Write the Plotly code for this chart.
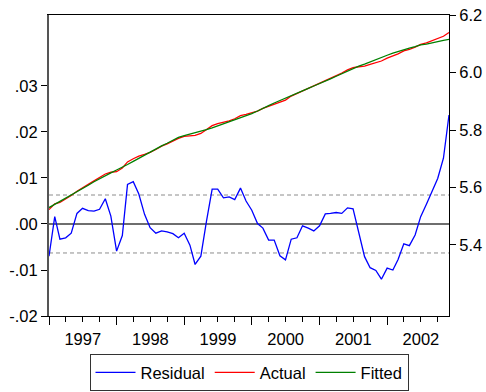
import pandas as pd
import plotly.graph_objects as go

# Monthly observations 1997M01 - 2002M12
dates = pd.date_range("1997-01-01", "2002-12-01", freq="MS")

residual = [
    -0.0070, 0.0016, -0.0033, -0.0030, -0.0020, 0.0023, 0.0034, 0.0029, 0.0028, 0.0032, 0.0055, 0.0017,
    -0.0059, -0.0025, 0.0086, 0.0092, 0.0065, 0.0021, -0.0008, -0.0020, -0.0015, -0.0017, -0.0021, -0.0030,
    -0.0020, -0.0046, -0.0088, -0.0070, 0.0005, 0.0076, 0.0076, 0.0057, 0.0059, 0.0053, 0.0078, 0.0050,
    0.0030, 0.0001, -0.0009, -0.0035, -0.0035, -0.0069, -0.0078, -0.0033, -0.0030, -0.0004, -0.0009, -0.0015,
    -0.0004, 0.0022, 0.0023, 0.0025, 0.0023, 0.0035, 0.0033, -0.0017, -0.0071, -0.0095, -0.0101, -0.0120,
    -0.0096, -0.0100, -0.0077, -0.0043, -0.0047, -0.0024, 0.0016, 0.0043, 0.0070, 0.0099, 0.0143, 0.0237,
]

actual = [
    5.523, 5.543, 5.548, 5.559, 5.572, 5.587, 5.600, 5.611, 5.623, 5.634, 5.647, 5.653,
    5.655, 5.668, 5.689, 5.700, 5.709, 5.715, 5.722, 5.732, 5.744, 5.752, 5.762, 5.771,
    5.778, 5.780, 5.781, 5.788, 5.802, 5.815, 5.822, 5.826, 5.832, 5.839, 5.850, 5.854,
    5.860, 5.866, 5.875, 5.882, 5.891, 5.896, 5.904, 5.918, 5.927, 5.937, 5.944, 5.952,
    5.961, 5.972, 5.980, 5.990, 5.998, 6.009, 6.017, 6.020, 6.022, 6.028, 6.035, 6.040,
    6.050, 6.057, 6.065, 6.075, 6.080, 6.088, 6.098, 6.103, 6.111, 6.118, 6.126, 6.139,
]

fitted = [
    5.530, 5.541, 5.551, 5.562, 5.574, 5.585, 5.597, 5.608, 5.620, 5.631, 5.641, 5.651,
    5.661, 5.670, 5.680, 5.691, 5.702, 5.713, 5.723, 5.734, 5.745, 5.754, 5.764, 5.774,
    5.780, 5.785, 5.790, 5.795, 5.801, 5.807, 5.814, 5.820, 5.826, 5.834, 5.842, 5.849,
    5.857, 5.866, 5.876, 5.885, 5.894, 5.903, 5.912, 5.921, 5.930, 5.937, 5.945, 5.953,
    5.961, 5.970, 5.978, 5.987, 5.996, 6.005, 6.014, 6.022, 6.029, 6.037, 6.045, 6.052,
    6.060, 6.067, 6.073, 6.079, 6.085, 6.090, 6.096, 6.099, 6.104, 6.108, 6.112, 6.115,
]

se_band = 0.0063  # +/- one standard error of the regression

left_tickvals = [-0.02, -0.01, 0.0, 0.01, 0.02, 0.03]
left_ticktext = ["-.02", "-.01", ".00", ".01", ".02", ".03"]
right_tickvals = [5.4, 5.6, 5.8, 6.0, 6.2]
right_ticktext = ["5.4", "5.6", "5.8", "6.0", "6.2"]

FONT = "Liberation Sans, Arial, sans-serif"
FS = 16.5

fig = go.Figure()
fig.add_trace(go.Scatter(x=dates, y=residual, name="Residual", mode="lines",
                         line=dict(color="#0000FF", width=1.3), yaxis="y"))
fig.add_trace(go.Scatter(x=dates, y=actual, name="Actual", mode="lines",
                         line=dict(color="#FF0000", width=1.3), yaxis="y2"))
fig.add_trace(go.Scatter(x=dates, y=fitted, name="Fitted", mode="lines",
                         line=dict(color="#008000", width=1.3), yaxis="y2"))

# reference lines: zero and +/- SE
fig.add_shape(type="line", xref="paper", yref="y", x0=0, x1=1, y0=0, y1=0,
              line=dict(color="#6e6e6e", width=2), layer="below")
for s in (se_band, -se_band):
    fig.add_shape(type="line", xref="paper", yref="y", x0=0, x1=1, y0=s, y1=s,
                  line=dict(color="#8c8c8c", width=1, dash="4px,3px"), layer="below")

fig.update_layout(
    width=486, height=392,
    margin=dict(l=49, r=37, t=15, b=76, autoexpand=False),
    paper_bgcolor="white", plot_bgcolor="white",
    font=dict(family=FONT, size=FS, color="black"),
    showlegend=True,
    legend=dict(orientation="h", x=0.5, xanchor="center", y=-0.127, yanchor="top",
                bordercolor="#333333", borderwidth=1, font=dict(size=FS),
                itemwidth=40, tracegroupgap=0),
    xaxis=dict(
        type="date", range=[dates[0], dates[-1]], automargin=False,
        showgrid=False, zeroline=False,
        showline=True, linecolor="black", linewidth=1, mirror=True,
        tickmode="linear", tick0="1997-01-01", dtick="M12",
        ticklabelmode="period", tickformat="%Y",
        ticks="outside", ticklen=8, tickcolor="black", tickwidth=1,
        minor=dict(ticks="outside", ticklen=5, dtick="M3", tick0="1997-01-01",
                   tickcolor="black", showgrid=False),
        tickfont=dict(size=FS),
    ),
    yaxis=dict(
        range=[-0.02, 0.04543], showgrid=False, zeroline=False, automargin=False,
        tickmode="array", tickvals=left_tickvals, ticktext=left_ticktext,
        ticks="outside", ticklen=6, tickcolor="black",
        showline=True, linecolor="#555555", linewidth=2,
        tickfont=dict(size=FS),
    ),
    yaxis2=dict(
        range=[5.153, 6.2], overlaying="y", side="right", automargin=False,
        showgrid=False, zeroline=False,
        tickmode="array", tickvals=right_tickvals, ticktext=right_ticktext,
        ticks="outside", ticklen=6, tickcolor="black",
        showline=True, linecolor="black", linewidth=1,
        tickfont=dict(size=FS),
    ),
)

fig.write_html("out.html", config={"displayModeBar": False},
               post_script="document.body.style.margin='0';document.body.style.overflow='hidden';")
